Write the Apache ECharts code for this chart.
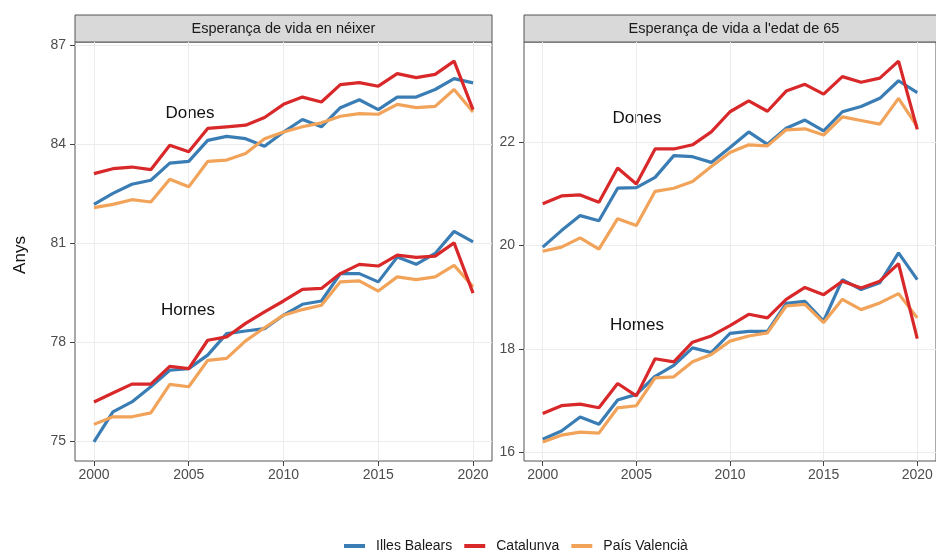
<!DOCTYPE html>
<html>
<head>
<meta charset="utf-8">
<script src="https://cdn.jsdelivr.net/npm/echarts@6/dist/echarts.min.js"></script>
<style>
  html, body { margin: 0; padding: 0; background: #fff; }
  #chart { width: 936px; height: 550px; }
</style>
</head>
<body>
<div id="chart"></div>
<script>
var years = [2000, 2001, 2002, 2003, 2004, 2005, 2006, 2007, 2008, 2009, 2010,
    2011, 2012, 2013, 2014, 2015, 2016, 2017, 2018, 2019, 2020]

// Esperança de vida en néixer
var naixDonesBal = [82.18, 82.51, 82.79, 82.91, 83.43, 83.48, 84.12, 84.24, 84.17, 83.94, 84.37,
    84.75, 84.53, 85.11, 85.35, 85.05, 85.43, 85.43, 85.66, 85.99, 85.86]
var naixDonesCat = [83.11, 83.26, 83.31, 83.23, 83.97, 83.77, 84.48, 84.53, 84.58, 84.81, 85.21,
    85.43, 85.28, 85.81, 85.87, 85.76, 86.14, 86.02, 86.12, 86.52, 85.05]
var naixDonesVal = [82.08, 82.18, 82.32, 82.25, 82.94, 82.71, 83.48, 83.52, 83.72, 84.17, 84.37,
    84.53, 84.65, 84.85, 84.93, 84.91, 85.21, 85.11, 85.15, 85.66, 84.98]
var naixHomesBal = [74.98, 75.89, 76.19, 76.65, 77.15, 77.20, 77.61, 78.26, 78.34, 78.41, 78.82,
    79.15, 79.25, 80.08, 80.08, 79.83, 80.58, 80.36, 80.69, 81.36, 81.04]
var naixHomesCat = [76.19, 76.46, 76.73, 76.73, 77.27, 77.20, 78.06, 78.16, 78.57, 78.92, 79.25,
    79.60, 79.63, 80.08, 80.36, 80.31, 80.64, 80.57, 80.61, 81.01, 79.49]
var naixHomesVal = [75.51, 75.74, 75.74, 75.86, 76.72, 76.65, 77.45, 77.51, 78.04, 78.44, 78.82,
    78.99, 79.12, 79.83, 79.86, 79.55, 79.98, 79.90, 79.98, 80.33, 79.68]

// Esperança de vida a l'edat de 65
var e65DonesBal = [19.97, 20.29, 20.58, 20.48, 21.11, 21.12, 21.32, 21.74, 21.72, 21.61, 21.90,
    22.20, 21.96, 22.27, 22.43, 22.22, 22.59, 22.69, 22.85, 23.19, 22.96]
var e65DonesCat = [20.81, 20.96, 20.98, 20.84, 21.50, 21.19, 21.87, 21.87, 21.95, 22.20, 22.59,
    22.80, 22.60, 22.99, 23.12, 22.93, 23.27, 23.16, 23.24, 23.57, 22.25]
var e65DonesVal = [19.89, 19.97, 20.15, 19.93, 20.52, 20.39, 21.05, 21.11, 21.24, 21.53, 21.80,
    21.95, 21.93, 22.24, 22.26, 22.14, 22.49, 22.42, 22.35, 22.85, 22.30]
var e65HomesBal = [16.25, 16.41, 16.68, 16.54, 17.01, 17.12, 17.47, 17.68, 18.02, 17.93, 18.30,
    18.34, 18.34, 18.88, 18.92, 18.54, 19.34, 19.15, 19.28, 19.86, 19.34]
var e65HomesCat = [16.75, 16.90, 16.93, 16.86, 17.33, 17.09, 17.81, 17.75, 18.13, 18.25, 18.45,
    18.67, 18.60, 18.96, 19.19, 19.05, 19.31, 19.18, 19.31, 19.65, 18.20]
var e65HomesVal = [16.20, 16.33, 16.39, 16.37, 16.86, 16.90, 17.44, 17.46, 17.75, 17.89, 18.15,
    18.25, 18.31, 18.83, 18.86, 18.51, 18.96, 18.76, 18.89, 19.07, 18.60]

var regions = ['Illes Balears', 'Catalunya', 'País Valencià']
var panelTitles = ['Esperança de vida en néixer', "Esperança de vida a l'edat de 65"]
var xTicks = [2000, 2005, 2010, 2015, 2020]
var yTicksNaix = [75, 78, 81, 84, 87]
var yTicks65 = [16, 18, 20, 22]

var colors = { 'Illes Balears': '#3a7db5', 'Catalunya': '#d8282a', 'País Valencià': '#f2a35a' }
var FONT = 'Liberation Sans, Arial, sans-serif'

var chart = echarts.init(document.getElementById('chart'))

function pairs(vals) {
    return years.map(function (y, i) { return [y, vals[i]] })
}

function line(name, idx, vals) {
    return {
        name: name,
        type: 'line',
        xAxisIndex: idx,
        yAxisIndex: idx,
        data: pairs(vals),
        showSymbol: false,
        symbol: 'none',
        lineStyle: { width: 3.2, color: colors[name] },
        itemStyle: { color: colors[name] },
        emphasis: { disabled: true },
        animation: false
    }
}

function xAxis(idx) {
    return {
        type: 'value', gridIndex: idx, min: 1999, max: 2021,
        axisLine: { show: false },
        axisTick: { show: true, length: 5, customValues: xTicks, lineStyle: { color: '#444' } },
        axisLabel: {
            customValues: xTicks, color: '#4d4d4d', fontSize: 14, fontFamily: FONT, margin: 7,
            formatter: function (v) { return String(v) }
        },
        splitLine: { show: true, lineStyle: { color: '#ececec', width: 1 } }
    }
}

function yAxis(idx, min, max, ticks) {
    return {
        type: 'value', gridIndex: idx, min: min, max: max,
        axisLine: { show: false },
        axisTick: { show: true, length: 5, customValues: ticks, lineStyle: { color: '#444' } },
        axisLabel: { customValues: ticks, color: '#4d4d4d', fontSize: 14, fontFamily: FONT, margin: 9 },
        splitLine: { show: true, lineStyle: { color: '#ececec', width: 1 } }
    }
}

function strip(x, w, text) {
    return {
        type: 'group',
        children: [
            { type: 'rect', shape: { x: x, y: 15, width: w, height: 27 },
              style: { fill: '#d9d9d9', stroke: '#555', lineWidth: 1 } },
            { type: 'text', x: x + w / 2, y: 28.5,
              style: { text: text, fill: '#1a1a1a', font: '14.5px ' + FONT, align: 'center', verticalAlign: 'middle' } }
        ]
    }
}

function note(x, y, text) {
    return { type: 'text', x: x, y: y,
        style: { text: text, fill: '#111', font: '17px ' + FONT, align: 'center', verticalAlign: 'middle' } }
}

var option = {
    backgroundColor: '#fff',
    animation: false,
    grid: [
        { left: 75, right: 444, top: 42, bottom: 89, show: true, borderColor: '#555', borderWidth: 1, backgroundColor: '#fff' },
        { left: 524, right: -6, top: 42, bottom: 89, show: true, borderColor: '#555', borderWidth: 1, backgroundColor: '#fff' }
    ],
    xAxis: [xAxis(0), xAxis(1)],
    yAxis: [yAxis(0, 74.4, 87.1, yTicksNaix), yAxis(1, 15.83, 23.94, yTicks65)],
    legend: {
        data: regions,
        left: 339,
        top: 534,
        icon: 'rect',
        itemWidth: 21,
        itemHeight: 4,
        itemGap: 12,
        textStyle: { color: '#1a1a1a', fontSize: 14, fontFamily: FONT, padding: [0, 0, 0, 6] },
        selectedMode: false
    },
    graphic: [
        strip(75, 417, panelTitles[0]),
        strip(524, 420, panelTitles[1]),
        { type: 'text', x: 20, y: 255, rotation: Math.PI / 2,
          style: { text: 'Anys', fill: '#111', font: '17px ' + FONT, align: 'center', verticalAlign: 'middle' } },
        note(190, 113, 'Dones'),
        note(188, 310, 'Homes'),
        note(637, 118, 'Dones'),
        note(637, 325, 'Homes')
    ],
    series: [
        line('Illes Balears', 0, naixDonesBal),
        line('Illes Balears', 0, naixHomesBal),
        line('País Valencià', 0, naixDonesVal),
        line('País Valencià', 0, naixHomesVal),
        line('Catalunya', 0, naixDonesCat),
        line('Catalunya', 0, naixHomesCat),
        line('Illes Balears', 1, e65DonesBal),
        line('Illes Balears', 1, e65HomesBal),
        line('País Valencià', 1, e65DonesVal),
        line('País Valencià', 1, e65HomesVal),
        line('Catalunya', 1, e65DonesCat),
        line('Catalunya', 1, e65HomesCat)
    ]
}

chart.setOption(option)
</script>
</body>
</html>
